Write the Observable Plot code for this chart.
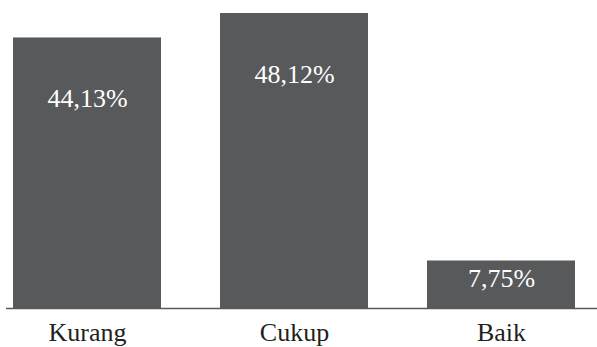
<!DOCTYPE html>
<html>
<head>
<meta charset="utf-8">
<script src="https://cdn.jsdelivr.net/npm/d3@7"></script>
<script src="https://cdn.jsdelivr.net/npm/@observablehq/plot@0.6"></script>
<style>
  html, body { margin: 0; padding: 0; background: #fff; }
  #chart svg { display: block; }
</style>
</head>
<body>
<div id="chart"></div>
<script>
const categories = ["Kurang", "Cukup", "Baik"];
const values = [44.13, 48.12, 7.75];
const valueLabels = ["44,13%", "48,12%", "7,75%"];

const data = categories.map((c, i) => ({category: c, value: values[i], label: valueLabels[i]}));
const serif = "'Liberation Serif', 'Times New Roman', serif";

const chart = Plot.plot({
  width: 597,
  height: 347,
  marginTop: 13,
  marginBottom: 39,
  marginLeft: 6,
  marginRight: 0,
  style: {background: "#fff", fontFamily: serif},
  x: {domain: categories, paddingInner: 0.283, paddingOuter: 0.0625, align: 0.23, label: null, axis: null},
  y: {domain: [0, d3.max(values)], axis: null},
  marks: [
    Plot.barY(data, {x: "category", y: "value", fill: "#58595b"}),
    Plot.ruleY([0], {stroke: "#58595b", strokeWidth: 1.6}),
    Plot.text(data.filter(d => d.value > 20), {x: "category", y: "value", text: "label", dy: 61, fill: "#fff", fontSize: 26, fontFamily: serif}),
    Plot.text(data.filter(d => d.value <= 20), {x: "category", y: "value", text: "label", dy: 18, fill: "#fff", fontSize: 26, fontFamily: serif}),
    Plot.axisX({tickSize: 0, tickPadding: 14, fontSize: 26, fontFamily: serif, fill: "#231f20", label: null})
  ]
});
document.getElementById("chart").appendChild(chart);
</script>
</body>
</html>
